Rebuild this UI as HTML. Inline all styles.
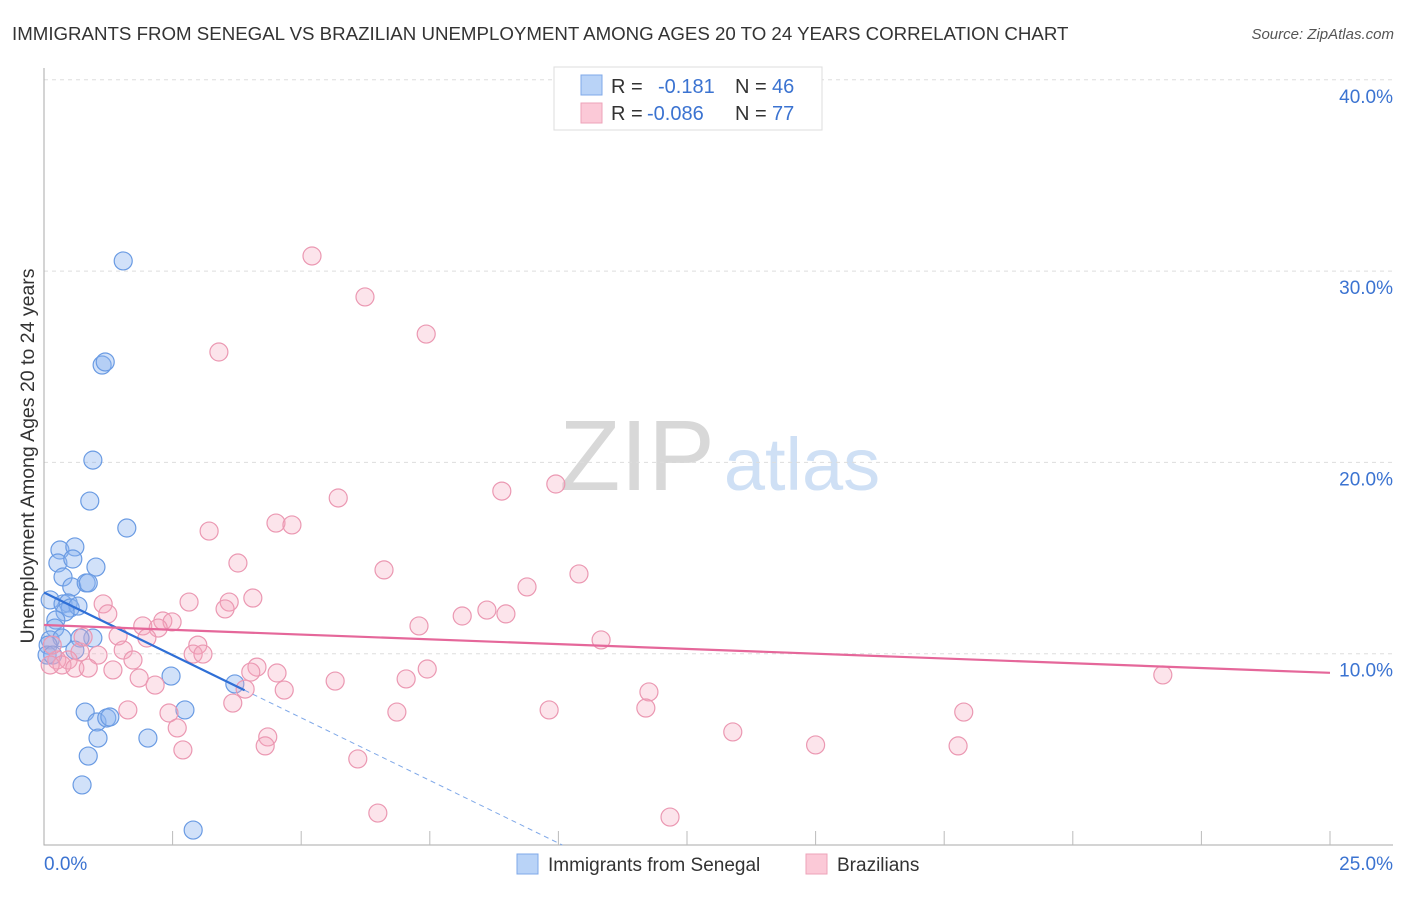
<!DOCTYPE html>
<html><head><meta charset="utf-8"><style>
body{margin:0;background:#fff;font-family:"Liberation Sans",sans-serif}
svg text{font-family:"Liberation Sans",sans-serif}
</style></head><body>
<svg id="chart" width="1406" height="892" xmlns="http://www.w3.org/2000/svg">
<text x="12" y="40" font-size="18.7" fill="#333">IMMIGRANTS FROM SENEGAL VS BRAZILIAN UNEMPLOYMENT AMONG AGES 20 TO 24 YEARS CORRELATION CHART</text>
<text x="1394" y="39" font-size="15" fill="#555" text-anchor="end" font-style="italic">Source: ZipAtlas.com</text>
<g>
<text x="637" y="490" font-size="100" fill="#d8d8d8" text-anchor="middle" font-family="Liberation Serif,serif">ZIP</text>
<text x="802" y="490" font-size="74" fill="#cfe0f5" text-anchor="middle">atlas</text>
</g>
<g id="grid"></g>
<g id="axes"></g>
<g id="pts"></g>
<g id="lines"></g>
<g>
<rect x="554" y="67" width="268" height="63" fill="#fff" stroke="#ddd"/>
<rect x="581" y="75" width="21" height="20" fill="#b9d3f7" stroke="#7fa8e8"/>
<rect x="581" y="103" width="21" height="20" fill="#fbc9d7" stroke="#eea3b9"/>
<text x="611" y="93" font-size="20" fill="#333">R =</text>
<text x="658" y="93" font-size="20" fill="#3b73d1">-0.181</text>
<text x="735" y="93" font-size="20" fill="#333">N =</text>
<text x="772" y="93" font-size="20" fill="#3b73d1">46</text>
<text x="611" y="120" font-size="20" fill="#333">R =</text>
<text x="647" y="120" font-size="20" fill="#3b73d1">-0.086</text>
<text x="735" y="120" font-size="20" fill="#333">N =</text>
<text x="772" y="120" font-size="20" fill="#3b73d1">77</text>
</g>
<g>
<rect x="517" y="854" width="21" height="20" fill="#b9d3f7" stroke="#7fa8e8"/>
<text x="548" y="871" font-size="19" fill="#333">Immigrants from Senegal</text>
<rect x="806" y="854" width="21" height="20" fill="#fbc9d7" stroke="#eea3b9"/>
<text x="837" y="871" font-size="19" fill="#333">Brazilians</text>
</g>
<text transform="translate(34,456) rotate(-90)" font-size="19.5" fill="#333" text-anchor="middle">Unemployment Among Ages 20 to 24 years</text>
</svg>
<script>
const yTicks=[10,20,30,40];
const yTickLabels=["10.0%","20.0%","30.0%","40.0%"];
const xTickLabels=["0.0%","25.0%"];
const blueX=[1.54,1.13,1.19,0.95,0.89,1.61,0.31,0.60,0.27,0.56,1.01,0.37,0.54,0.82,0.86,0.12,0.37,0.47,0.51,0.66,0.41,0.23,0.21,0.12,0.35,0.95,0.70,0.60,0.08,0.06,0.17,2.47,3.71,0.80,1.03,1.22,1.28,2.74,1.05,2.02,0.86,0.74,2.90];
const blueY=[30.53,25.09,25.25,20.12,17.98,16.57,15.42,15.58,14.74,14.95,14.53,14.01,13.49,13.70,13.70,12.81,12.60,12.65,12.39,12.49,12.18,11.76,11.34,10.72,10.82,10.82,10.82,10.19,10.45,9.93,9.93,8.83,8.42,6.95,6.43,6.64,6.69,7.06,5.59,5.59,4.65,3.14,0.78];
const pinkX=[5.21,6.24,7.43,3.40,5.72,8.90,9.95,3.21,4.51,4.82,3.77,6.61,10.40,9.39,2.82,3.60,4.06,1.15,1.24,3.52,8.13,8.61,8.98,7.29,1.92,2.31,2.49,2.22,1.44,2.00,10.83,1.54,2.99,2.90,3.09,1.05,1.73,0.70,0.47,0.25,0.35,0.60,0.86,1.34,4.14,4.02,4.53,7.45,1.85,2.16,3.91,4.67,5.66,7.04,11.76,21.75,3.67,1.63,2.43,6.86,9.82,11.70,17.88,2.59,13.39,4.35,4.30,2.70,15.00,17.77,6.10,6.49,12.17,0.16,0.12,0.76];
const pinkY=[30.79,28.65,26.71,25.77,18.14,18.50,18.87,16.41,16.83,16.73,14.74,14.38,14.17,13.49,12.70,12.70,12.91,12.60,12.08,12.34,11.97,12.28,12.08,11.45,11.45,11.71,11.66,11.34,10.93,10.82,10.72,10.19,10.45,9.98,9.98,9.93,9.67,10.09,9.67,9.67,9.41,9.25,9.25,9.15,9.30,9.04,8.99,9.20,8.73,8.36,8.15,8.10,8.57,8.68,8.00,8.89,7.42,7.06,6.90,6.95,7.06,7.16,6.95,6.12,5.91,5.65,5.18,4.97,5.23,5.18,4.50,1.67,1.46,10.45,9.41,10.87];
const blueFit=[13.2,-1.31];
const pinkFit=[11.5,-0.1];
const X0=44,X1=1330,Y0=845,PX=(X1-X0)/25,PY=19.13;
const sx=v=>X0+v*PX, sy=v=>Y0-v*PY;
const NS="http://www.w3.org/2000/svg";
function mk(p,t,a){const e=document.createElementNS(NS,t);for(const k in a)e.setAttribute(k,a[k]);p.appendChild(e);return e;}
const grid=document.getElementById('grid'),axes=document.getElementById('axes'),pts=document.getElementById('pts'),lines=document.getElementById('lines');
yTicks.forEach((t,i)=>{
const g=mk(grid,'line',{x1:X0,x2:1393,y1:sy(t),y2:sy(t),stroke:'#ddd','stroke-dasharray':'4,4'});


const l=mk(axes,'text',{x:1393,y:sy(t)+23,'font-size':19,fill:'#3b73d1','text-anchor':'end'});


l.textContent=yTickLabels[i];
});
const ax=mk(axes,'path',{d:`M${X0} 68V${Y0}H1393`,stroke:'#aaa',fill:'none'});


for(let i=1;i<=10;i++){const t=mk(axes,'line',{x1:sx(i*2.5),x2:sx(i*2.5),y1:Y0,y2:Y0-14,stroke:'#bbb'});

}
const xl0=mk(axes,'text',{x:44,y:870,'font-size':19,fill:'#3b73d1'});


xl0.textContent=xTickLabels[0];
const xl1=mk(axes,'text',{x:1393,y:870,'font-size':19,fill:'#3b73d1','text-anchor':'end'});


xl1.textContent=xTickLabels[1];
blueX.forEach((v,i)=>{const c=mk(pts,'circle',{cx:sx(v),cy:sy(blueY[i]),r:9,fill:'rgba(140,180,240,0.4)',stroke:'#6a9be3','stroke-width':1.2});

});
pinkX.forEach((v,i)=>{const c=mk(pts,'circle',{cx:sx(v),cy:sy(pinkY[i]),r:9,fill:'rgba(245,165,190,0.3)',stroke:'#eb98b2','stroke-width':1.2});

});
const bEnd=3.9, bZero=-blueFit[0]/blueFit[1];
const bl=mk(lines,'line',{x1:sx(0),y1:sy(blueFit[0]),x2:sx(bEnd),y2:sy(blueFit[0]+blueFit[1]*bEnd),stroke:'#2f6fd6','stroke-width':2.2});


const bd=mk(lines,'line',{x1:sx(bEnd),y1:sy(blueFit[0]+blueFit[1]*bEnd),x2:sx(bZero),y2:sy(0),stroke:'#7fa8e8','stroke-width':1,'stroke-dasharray':'5,4'});


const pl=mk(lines,'line',{x1:sx(0),y1:sy(pinkFit[0]),x2:sx(25),y2:sy(pinkFit[0]+pinkFit[1]*25),stroke:'#e5679a','stroke-width':2.2});


</script>
</body></html>
